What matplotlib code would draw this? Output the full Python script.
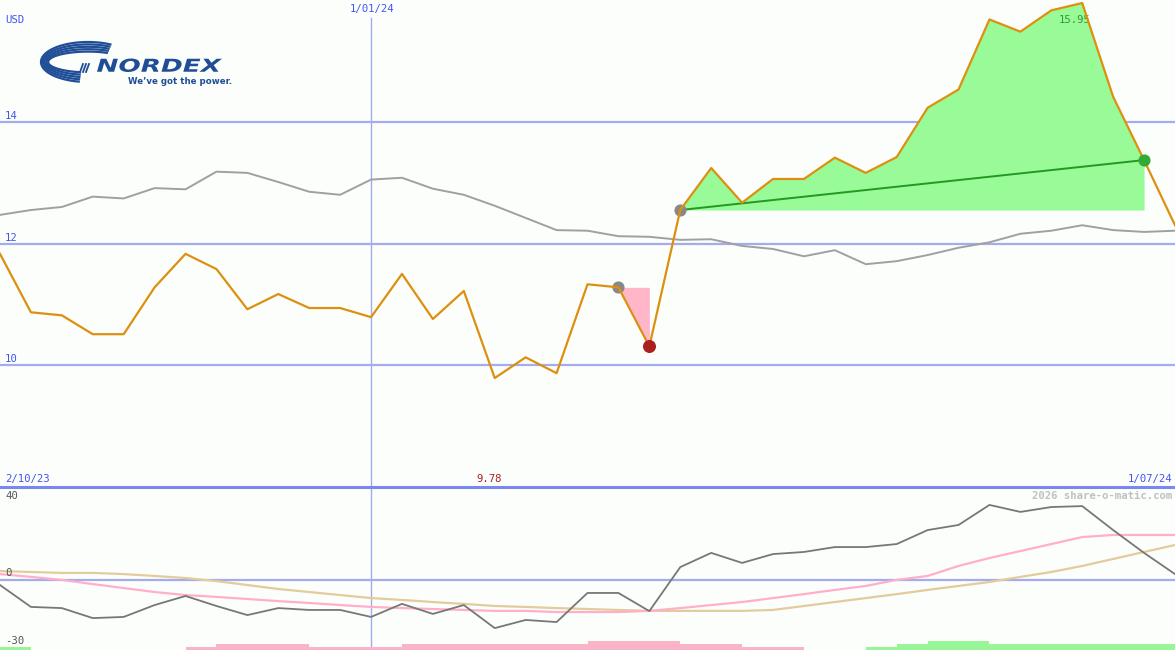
import numpy as np
import matplotlib
matplotlib.use("Agg")
import matplotlib.pyplot as plt
from matplotlib.textpath import TextPath
from matplotlib.patches import PathPatch
from matplotlib.font_manager import FontProperties
from matplotlib.transforms import Affine2D

# weekly closing price (USD), 2/10/23 -> 1/07/24
price = [11.83, 10.87, 10.82, 10.51, 10.51, 11.28, 11.83, 11.58, 10.92, 11.17,
         10.94, 10.94, 10.79, 11.50, 10.76, 11.22, 9.79, 10.13, 9.87, 11.33,
         11.28, 10.31, 12.55, 13.24, 12.67, 13.06, 13.06, 13.41, 13.16, 13.42,
         14.23, 14.53, 15.68, 15.48, 15.83, 15.95, 14.41, 13.37, 12.30]

# moving average (grey)
avg = [12.47, 12.55, 12.60, 12.77, 12.74, 12.91, 12.89, 13.18, 13.16, 13.01,
       12.85, 12.80, 13.05, 13.08, 12.90, 12.80, 12.62, 12.42, 12.22, 12.21,
       12.12, 12.11, 12.06, 12.07, 11.96, 11.91, 11.79, 11.89, 11.66, 11.71,
       11.81, 11.93, 12.02, 12.16, 12.21, 12.30, 12.22, 12.19, 12.21]

# lower panel indicators
momentum = [-2.1, -11.5, -12.0, -16.3, -15.8, -10.7, -6.8, -11.1, -15.0, -12.0,
            -12.8, -12.8, -15.8, -10.2, -14.5, -10.7, -20.6, -17.1, -18.0, -5.5,
            -5.5, -13.3, 5.6, 11.7, 7.4, 11.2, 12.1, 14.2, 14.2, 15.5,
            21.5, 23.7, 32.3, 29.3, 31.4, 31.8, 21.5, 11.7, 2.6]
signal_pink = [2.6, 1.4, 0.1, -1.7, -3.4, -5.1, -6.4, -7.2, -8.1, -9.0,
               -9.8, -10.7, -11.5, -12.0, -12.4, -12.8, -13.2, -13.2, -13.7, -13.7,
               -13.7, -13.2, -12.0, -10.7, -9.4, -7.7, -6.0, -4.2, -2.5, 0.1,
               1.8, 6.1, 9.5, 12.5, 15.5, 18.5, 19.4, 19.4, 19.4]
signal_tan = [3.9, 3.5, 3.1, 3.1, 2.6, 1.8, 0.9, -0.4, -2.1, -3.8,
              -5.1, -6.4, -7.7, -8.5, -9.4, -10.2, -11.1, -11.5, -12.0, -12.4,
              -12.8, -13.2, -13.2, -13.2, -13.2, -12.8, -11.1, -9.4, -7.7, -6.0,
              -4.2, -2.5, -0.8, 1.4, 3.5, 6.1, 9.1, 12.1, 15.1]
# signal strength per week (positive = green, negative = pink)
bar_level = [1, 0, 0, 0, 0, 0, -1, -2, -2, -2,
             -1, -1, -1, -2, -2, -2, -2, -2, -2, -3,
             -3, -3, -2, -2, -1, -1, 0, 0, 1, 2,
             3, 3, 2, 2, 2, 2, 2, 2]

start_label = "2/10/23"
mid_label = "1/01/24"
end_label = "1/07/24"
mid_week = 12
i_top = 20
i_low = 21
i_buy = 22
i_sell = 37

W, H = 1175, 650
BG = "#fcfefc"
GRID = "#a4acf0"
BLUE_TXT = "#4455ee"
LOGO = "#1f4e96"
FONT = "DejaVu Sans Mono"
FS = 7.7

fig = plt.figure(figsize=(W / 100, H / 100), dpi=100, facecolor=BG)
x = np.arange(len(price))


def px(xp, yp):
    return xp / W, 1 - yp / H


# ---- main panel ----
ax = fig.add_axes([0, 163 / H, 1, 487 / H], facecolor=BG)
ax.set_xlim(0, len(price) - 1)
ax.set_ylim(8, 16)
ax.axis("off")
for lvl in [10, 12, 14]:
    ax.axhline(lvl, color=GRID, lw=1.6, zorder=1)
ax.axvline(mid_week, ymax=1 - 18 / 487, color=GRID, lw=1, zorder=1)

ax.plot(x, avg, color="#a0a0a0", lw=1.4, zorder=2)

xs = x[i_buy:i_sell + 1]
ys = np.array(price[i_buy:i_sell + 1])
ax.fill_between(xs, ys, price[i_buy], color="#98fb98", lw=0, zorder=2)
ax.plot([i_buy, i_sell], [price[i_buy], price[i_sell]], color="#229922", lw=1.4, zorder=3)

xp = x[i_top:i_low + 1]
yp = np.array(price[i_top:i_low + 1])
ax.fill_between(xp, yp, price[i_top], color="#ffb6c8", lw=0, zorder=2)

ax.text(*px(1075, 20), f"{max(price):.2f}", color="#339933", fontsize=FS, family=FONT,
        ha="center", va="center", transform=fig.transFigure, zorder=3)

ax.plot(x, price, color="#dd9010", lw=1.6, zorder=4)
ax.scatter([i_top, i_buy], [price[i_top], price[i_buy]], s=60, color="#888888", zorder=3)
ax.scatter([i_low], [price[i_low]], s=70, color="#aa2020", zorder=5)
ax.scatter([i_sell], [price[i_sell]], s=60, color="#33aa33", zorder=5)

# ---- lower panel ----
bx = fig.add_axes([0, 0, 1, 163 / H], facecolor=BG)
bx.set_xlim(0, len(price) - 1)
bx.set_ylim(-30, 40)
bx.axis("off")
bx.axhline(0, color=GRID, lw=1.6, zorder=1)
bx.axvline(mid_week, color=GRID, lw=1, zorder=1)
bx.plot(x, signal_tan, color="#e2cc9c", lw=1.6, zorder=2)
bx.plot(x, signal_pink, color="#ffb0c8", lw=1.6, zorder=2)
bx.plot(x, momentum, color="#777777", lw=1.3, zorder=3)
for i, lvl in enumerate(bar_level):
    if lvl == 0:
        continue
    col = "#98f598" if lvl > 0 else "#f9b4c8"
    bx.bar(i, abs(lvl) * 1.3, width=1, bottom=-30, align="edge", color=col, lw=0, zorder=2)

# separator between panels
fig.add_artist(plt.Line2D([0, 1], [163 / H, 163 / H], color="#7a88ee", lw=2.2))

# ---- texts ----
fig.text(*px(5, 20), "USD", color=BLUE_TXT, fontsize=FS, family=FONT, va="center")
for lab, yy in [("14", 116), ("12", 238), ("10", 359)]:
    fig.text(*px(5, yy), lab, color=BLUE_TXT, fontsize=FS, family=FONT, va="center")
fig.text(*px(372, 9), mid_label, color=BLUE_TXT, fontsize=FS, family=FONT, ha="center", va="center")
fig.text(*px(5, 479), start_label, color=BLUE_TXT, fontsize=FS, family=FONT, va="center")
fig.text(*px(1172, 479), end_label, color=BLUE_TXT, fontsize=FS, family=FONT, ha="right", va="center")
fig.text(*px(489, 479), f"{min(price) - 0.01:.2f}", color="#aa2020", fontsize=FS, family=FONT,
         ha="center", va="center")
fig.text(*px(1172, 496), "2026 share-o-matic.com", color="#c0c0c0", fontsize=FS,
         family=FONT, weight="bold", ha="right", va="center")
for lab, yy in [("40", 496), ("0", 573), ("-30", 641)]:
    fig.text(*px(5, yy), lab, color="#555555", fontsize=FS, family=FONT, va="center")

# ---- logo (swoosh + wordmark), drawn in pixel coordinates ----
lg = fig.add_axes([36 / W, 1 - 92 / H, 200 / W, 56 / H])
lg.set_xlim(36, 236)
lg.set_ylim(92, 36)
lg.axis("off")
t = np.radians(np.linspace(100, 300, 120))
for k in range(5):
    a = 47 - k * 1.8
    b = 20 - k * 2.4
    lg.plot(88 + a * np.cos(t), 62 + b * np.sin(t), color=LOGO, lw=1.6,
            solid_capstyle="butt")
for dx in [0, 3, 6]:
    lg.plot([80 + dx, 83 + dx], [72, 64], color=LOGO, lw=1.3)

prop = FontProperties(family="DejaVu Sans", weight="bold", style="italic")
tp = TextPath((0, 0), "NORDEX", size=20, prop=prop)
ext = tp.get_extents()
sx = 125 / ext.width
sy = 13.5 / ext.height
tr = Affine2D().translate(-ext.x0, -ext.y0).scale(sx, -sy).translate(97, 72)
lg.add_patch(PathPatch(tr.transform_path(tp), color=LOGO, lw=0))
fig.text(*px(128, 82), "We\u2019ve got the power.", color=LOGO, fontsize=6.2,
         family="DejaVu Sans", weight="bold", va="center")

fig.savefig("out.png", dpi=100, facecolor=BG)
